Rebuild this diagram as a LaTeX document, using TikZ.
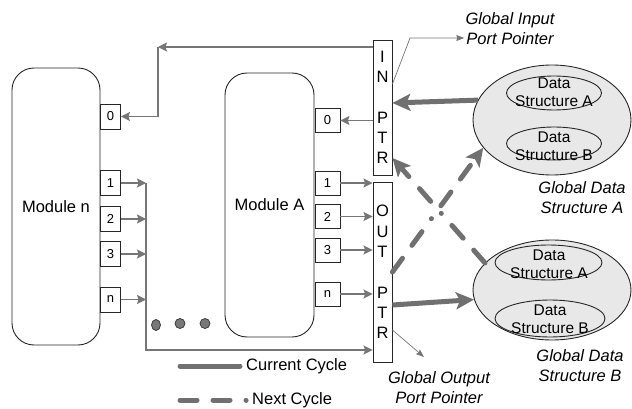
\documentclass[tikz,border=0pt]{standalone}
\usepackage{fontspec}
\setmainfont{Liberation Sans}
\usetikzlibrary{arrows.meta,shapes.geometric}

\definecolor{wiregray}{RGB}{118,118,118}
\definecolor{cyclegray}{RGB}{112,112,112}
\definecolor{poolgray}{RGB}{232,232,232}
\definecolor{dotgray}{RGB}{120,120,120}

\tikzset{
  module/.style={draw=black!85, line width=0.9pt, rounded corners=22pt, inner sep=0pt, font=\fontsize{16.5}{20}\selectfont},
  port/.style={draw=black!85, line width=0.9pt, fill=white, inner sep=0pt, minimum width=20pt, minimum height=25pt, font=\fontsize{13}{15}\selectfont},
  portA/.style={port, minimum width=25pt, minimum height=24pt},
  ptrbox/.style={draw=black!85, line width=0.9pt, fill=white, inner sep=0pt, minimum width=19pt, align=center, font=\fontsize{16.5}{20.3}\selectfont},
  pool/.style={ellipse, draw=black!85, line width=0.9pt, fill=poolgray, inner sep=0pt},
  dsring/.style={ellipse, draw=black!85, line width=0.9pt, inner sep=0pt},
  dstext/.style={align=center, inner sep=0pt, font=\fontsize{15.5}{18}\selectfont},
  tag/.style={align=center, inner sep=0pt, font=\fontsize{16.5}{20}\selectfont\itshape},
  legend/.style={anchor=west, inner sep=0pt, font=\fontsize{16.5}{20}\selectfont},
  wire/.style={draw=wiregray, line width=1.3pt, -{Stealth[length=9pt,width=9pt,inset=1.5pt]}},
  pointer/.style={draw=wiregray, line width=0.7pt, -{Stealth[length=8pt,width=6pt,inset=1pt]}},
  current/.style={draw=cyclegray, line width=5pt, -{Stealth[length=18pt,width=17pt,inset=4pt]}},
  nextcycle/.style={current, line cap=round, dash pattern=on 17pt off 16pt on 17pt off 16pt on 0.1pt off 16pt},
}

\begin{document}
\begin{tikzpicture}[x=1pt,y=1pt,yscale=-1]
    \useasboundingbox (0,0) rectangle (632,409);

    % Modules
    \node[module, minimum width=88pt, minimum height=277pt] (modN) at (56,206.5) {Module n};
    \node[module, minimum width=89pt, minimum height=264pt] (modA) at (269.5,205) {Module A};

    % Ports of Module n
    \node[port] (n0) at (110.5,116.5) {0};
    \node[port] (n1) at (110.5,183) {1};
    \node[port] (n2) at (110.5,219) {2};
    \node[port] (n3) at (110.5,254) {3};
    \node[port] (nn) at (110.5,299.5) {n};

    % Ports of Module A
    \node[portA] (a0) at (327.5,120.5) {0};
    \node[portA] (a1) at (327.5,183) {1};
    \node[portA] (a2) at (327.5,216.5) {2};
    \node[portA] (a3) at (327.5,250) {3};
    \node[portA] (an) at (327.5,294) {n};

    % Pointer columns
    \node[ptrbox, minimum height=135pt] (inptr) at (382.5,107.5) {I\\N\\[20.3pt]P\\T\\R};
    \node[ptrbox, minimum height=180pt] (outptr) at (382.5,272) {O\\U\\T\\[20.3pt]P\\T\\R};

    % Global data structure A
    \node[pool, minimum width=158pt, minimum height=110pt] (gA) at (552,120) {};
    \node[dsring, minimum width=95pt, minimum height=34pt] (gAa) at (554,93) {};
    \node[dstext] (gAaText) at (554,92) {Data\\Structure A};
    \node[dsring, minimum width=95pt, minimum height=33pt] (gAb) at (554,143.5) {};
    \node[dstext] (gAbText) at (554,146) {Data\\Structure B};
    \node[tag] (gAtag) at (582,198) {Global Data\\Structure A};

    % Global data structure B
    \node[pool, minimum width=158pt, minimum height=100pt] (gB) at (552,290) {};
    \node[dsring, minimum width=107pt, minimum height=35pt] (gBa) at (548.5,262.5) {};
    \node[dstext] (gBaText) at (549,264) {Data\\Structure A};
    \node[dsring, minimum width=110pt, minimum height=37pt] (gBb) at (550,318.5) {};
    \node[dstext] (gBbText) at (550,319) {Data\\Structure B};
    \node[tag] (gBtag) at (580,366) {Global Data\\Structure B};

    % Pointer labels
    \node[tag] (inTag) at (510,29) {Global Input\\Port Pointer};
    \node[tag] (outTag) at (439,387.5) {Global Output\\Port Pointer};

    % Input pointer back to Module n and Module A
    \coordinate (inTurn) at (158,47);
    \draw[wire] (inptr.west |- inTurn) -- (inTurn);
    \draw[wire] (inTurn) |- (n0.east);
    \draw[wire] (inptr.west |- a0) -- (a0.east);

    % Module n outputs onto the bus
    \coordinate (busEnd) at (146,350);
    \draw[wire] (n1.east) -- (n1.east -| busEnd);
    \draw[wire] (n2.east) -- (n2.east -| busEnd);
    \draw[wire] (n3.east) -- (n3.east -| busEnd);
    \draw[wire] (nn.east) -- (nn.east -| busEnd);
    \draw[wire] (busEnd |- n1) -- (busEnd) -- (busEnd -| outptr.west);

    % Module A outputs
    \draw[wire] (a1.east) -- (a1.east -| outptr.west);
    \draw[wire] (a2.east) -- (a2.east -| outptr.west);
    \draw[wire] (a3.east) -- (a3.east -| outptr.west);
    \draw[wire] (an.east) -- (an.east -| outptr.west);

    % Pointer callouts (yshift runs downwards here)
    \coordinate (inKnee) at (410,38);
    \coordinate (outTip) at (424,357);
    \draw[pointer] ([yshift=-23.5pt]inptr.east) -- (inKnee) -- ([xshift=-1pt]inKnee -| inTag.west);
    \draw[pointer] ([yshift=58pt]outptr.east) -- (outTip);

    % Current cycle
    \draw[current] (gA.165) -- ([yshift=-4.5pt]inptr.east);
    \draw[current] ([yshift=33pt]outptr.east) -- (gB.187);

    % Next cycle
    \draw[nextcycle] (outptr.east) -- (gA.202);
    \draw[nextcycle] (gB.158) -- ([yshift=50.5pt]inptr.east);

    % More modules
    \filldraw[fill=dotgray, draw=black!80, line width=0.7pt] (156,325) ellipse [x radius=4.5, y radius=5.5];
    \filldraw[fill=dotgray, draw=black!80, line width=0.7pt] (180,323.5) circle [radius=5];
    \filldraw[fill=dotgray, draw=black!80, line width=0.7pt] (205,323.5) circle [radius=5];

    % Legend
    \coordinate (curStart) at (180,366);
    \coordinate (nextStart) at (180,400);
    \node[legend] (curTag) at (246,366) {Current Cycle};
    \node[legend] (nextTag) at (252,400) {Next Cycle};
    \draw[current, -, line cap=round] (curStart) -- ([xshift=-6pt]curTag.west);
    \draw[nextcycle, -] (nextStart) -- ([xshift=-5.9pt]nextTag.west);
\end{tikzpicture}
\end{document}
